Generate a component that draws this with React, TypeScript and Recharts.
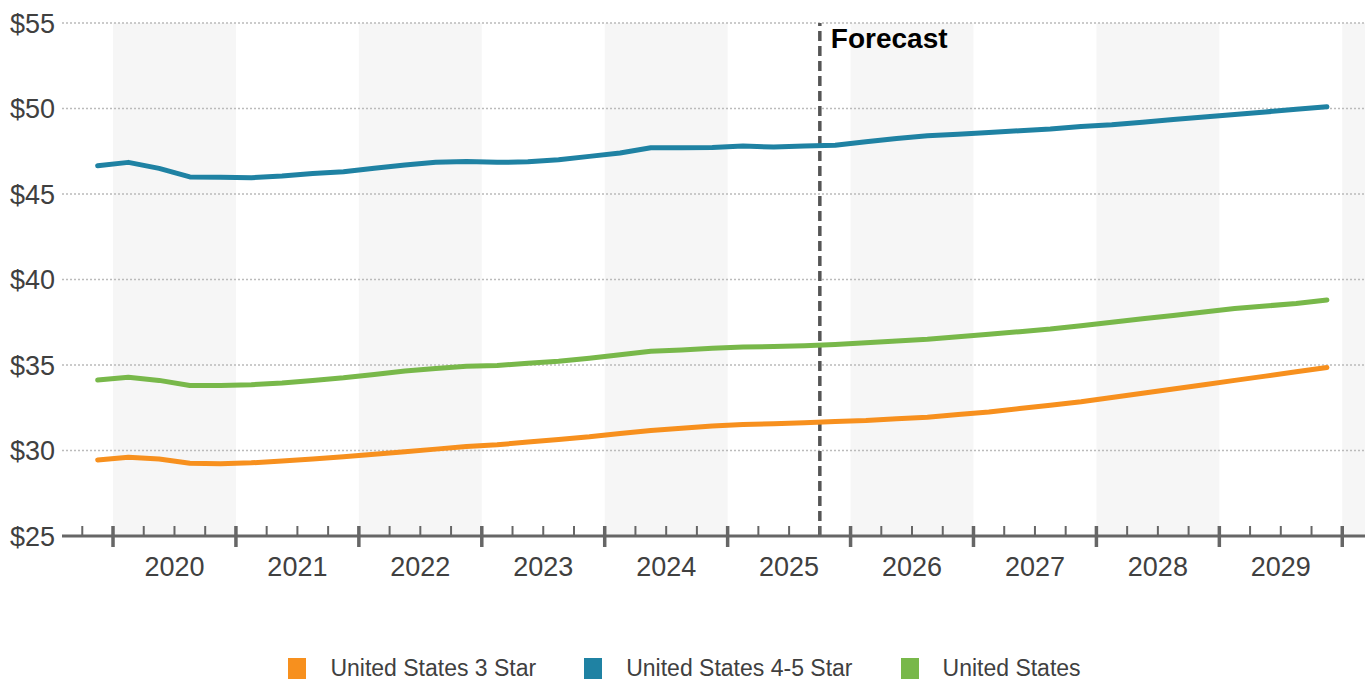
import React from "react";
import {
  LineChart,
  Line,
  XAxis,
  YAxis,
  ReferenceArea,
  ReferenceLine
} from "recharts";

const quarters = [
  "2019 Q4",
  "2020 Q1", "2020 Q2", "2020 Q3", "2020 Q4",
  "2021 Q1", "2021 Q2", "2021 Q3", "2021 Q4",
  "2022 Q1", "2022 Q2", "2022 Q3", "2022 Q4",
  "2023 Q1", "2023 Q2", "2023 Q3", "2023 Q4",
  "2024 Q1", "2024 Q2", "2024 Q3", "2024 Q4",
  "2025 Q1", "2025 Q2", "2025 Q3", "2025 Q4",
  "2026 Q1", "2026 Q2", "2026 Q3", "2026 Q4",
  "2027 Q1", "2027 Q2", "2027 Q3", "2027 Q4",
  "2028 Q1", "2028 Q2", "2028 Q3", "2028 Q4",
  "2029 Q1", "2029 Q2", "2029 Q3", "2029 Q4"
];

const threeStar = [
  29.45, 29.6, 29.5, 29.25, 29.22, 29.28, 29.38, 29.5, 29.63, 29.78, 29.93, 30.08, 30.23,
  30.33, 30.5, 30.65, 30.8, 31.0, 31.17, 31.3, 31.43, 31.52, 31.57, 31.63, 31.7,
  31.75, 31.85, 31.95, 32.1, 32.25, 32.45, 32.65, 32.85, 33.1, 33.35, 33.6, 33.85,
  34.1, 34.35, 34.6, 34.85
];

const fourFiveStar = [
  46.65, 46.85, 46.5, 46.0, 45.98, 45.95, 46.05, 46.2, 46.3, 46.5, 46.7, 46.85, 46.9,
  46.85, 46.88, 47.0, 47.2, 47.4, 47.7, 47.7, 47.72, 47.8, 47.75, 47.8, 47.85,
  48.05, 48.25, 48.4, 48.5, 48.6, 48.7, 48.8, 48.95, 49.05, 49.2, 49.35, 49.5,
  49.65, 49.8, 49.95, 50.1
];

const unitedStates = [
  34.12, 34.28, 34.1, 33.8, 33.8, 33.85, 33.95, 34.1, 34.25, 34.45, 34.65, 34.8, 34.92,
  34.97, 35.1, 35.22, 35.4, 35.6, 35.8, 35.88, 35.98, 36.05, 36.08, 36.13, 36.2,
  36.3, 36.4, 36.5, 36.65, 36.8, 36.95, 37.1, 37.3, 37.5, 37.7, 37.9, 38.1,
  38.3, 38.45, 38.6, 38.8
];

const years = [2020, 2021, 2022, 2023, 2024, 2025, 2026, 2027, 2028, 2029];
const shadedYears = [2020, 2022, 2024, 2026, 2028, 2030];
const yTicks = [25, 30, 35, 40, 45, 50, 55];
const forecastStart = "2025 Q4";

const SERIES = [
  { key: "threeStar", name: "United States 3 Star", color: "#f7901e" },
  { key: "fourFiveStar", name: "United States 4-5 Star", color: "#1f82a3" },
  { key: "unitedStates", name: "United States", color: "#78b84a" }
];

// x is measured in quarters from the start of 2020; each point sits mid-quarter
const data = quarters.map((label, i) => ({
  label,
  q: i - 0.5,
  threeStar: threeStar[i],
  fourFiveStar: fourFiveStar[i],
  unitedStates: unitedStates[i]
}));

const X_DOMAIN: [number, number] = [-1.66, 40.74];
const quarterMarks: number[] = [];
for (let q = -1; q <= 40; q++) quarterMarks.push(q);
const forecastX = data[quarters.indexOf(forecastStart)].q - 0.5;

const AXIS_COLOR = "#666";
const TEXT_COLOR = "#404040";

// one tick per quarter boundary; year boundaries get the long mark,
// and the mid-year boundary carries the year label
const QuarterTick = ({ x, y, payload }: any) => {
  const q = payload.value;
  const major = q % 4 === 0;
  const yearIdx = (q - 2) / 4;
  const year = Number.isInteger(yearIdx) ? years[yearIdx] : undefined;
  return (
    <g>
      <line
        x1={x}
        x2={x}
        y1={y - 10}
        y2={major ? y + 11 : y}
        stroke={AXIS_COLOR}
        strokeWidth={major ? 3.5 : 2}
      />
      {year !== undefined && (
        <text x={x} y={y + 40} textAnchor="middle" fill={TEXT_COLOR} fontSize={27}>
          {year}
        </text>
      )}
    </g>
  );
};

const ForecastLabel = ({ viewBox }: any) => (
  <text x={viewBox.x + 11} y={viewBox.y + 25} fill="#000" fontSize={28} fontWeight={700}>
    Forecast
  </text>
);

const App: React.FC = () => {
  return (
    <div style={{
      position: "absolute", left: 0, top: 0, width: 1369, height: 683,
      background: "#fff", fontFamily: "'Liberation Sans', Arial, sans-serif"
    }}>
      <LineChart
        width={1369}
        height={600}
        data={data}
        margin={{ top: 23, right: 4, left: 0, bottom: 0 }}
      >
        <XAxis
          dataKey="q"
          type="number"
          domain={X_DOMAIN}
          allowDataOverflow
          ticks={quarterMarks}
          interval={0}
          height={64}
          tickSize={0}
          tickMargin={0}
          tickLine={false}
          axisLine={{ stroke: AXIS_COLOR, strokeWidth: 3 }}
          tick={<QuarterTick />}
        />
        <YAxis
          domain={[25, 55]}
          ticks={yTicks}
          interval={0}
          width={62}
          tickSize={0}
          tickMargin={7}
          axisLine={false}
          tickLine={false}
          tickFormatter={(v) => `$${v}`}
          tick={{ fill: TEXT_COLOR, fontSize: 27 }}
        />
        {shadedYears.map((yr) => (
          <ReferenceArea
            key={yr}
            x1={(yr - 2020) * 4}
            x2={(yr - 2020) * 4 + 4}
            fill="#f6f6f6"
            fillOpacity={1}
            stroke="none"
            ifOverflow="hidden"
          />
        ))}
        {yTicks.slice(1).map((v) => (
          <ReferenceLine
            key={v}
            y={v}
            stroke="#bbb"
            strokeWidth={1.5}
            strokeDasharray="2 2"
          />
        ))}
        <ReferenceLine
          x={forecastX}
          stroke="#555"
          strokeWidth={3.5}
          strokeDasharray="10 5"
          label={<ForecastLabel />}
        />
        {SERIES.map((s) => (
          <Line
            key={s.key}
            type="linear"
            dataKey={s.key}
            name={s.name}
            stroke={s.color}
            strokeWidth={5}
            strokeLinecap="round"
            strokeLinejoin="round"
            dot={false}
            activeDot={false}
            isAnimationActive={false}
          />
        ))}
      </LineChart>

      <div style={{
        position: "absolute", top: 657, left: 0, width: 1369, display: "flex",
        justifyContent: "center", alignItems: "center", gap: "48px"
      }}>
        {SERIES.map((s) => (
          <div key={s.key} style={{ display: "flex", alignItems: "center", gap: "24px" }}>
            <div style={{ width: 18, height: 21, background: s.color }} />
            <span style={{ fontSize: 23, color: TEXT_COLOR, lineHeight: "23px" }}>{s.name}</span>
          </div>
        ))}
      </div>
    </div>
  );
};

export default App;
